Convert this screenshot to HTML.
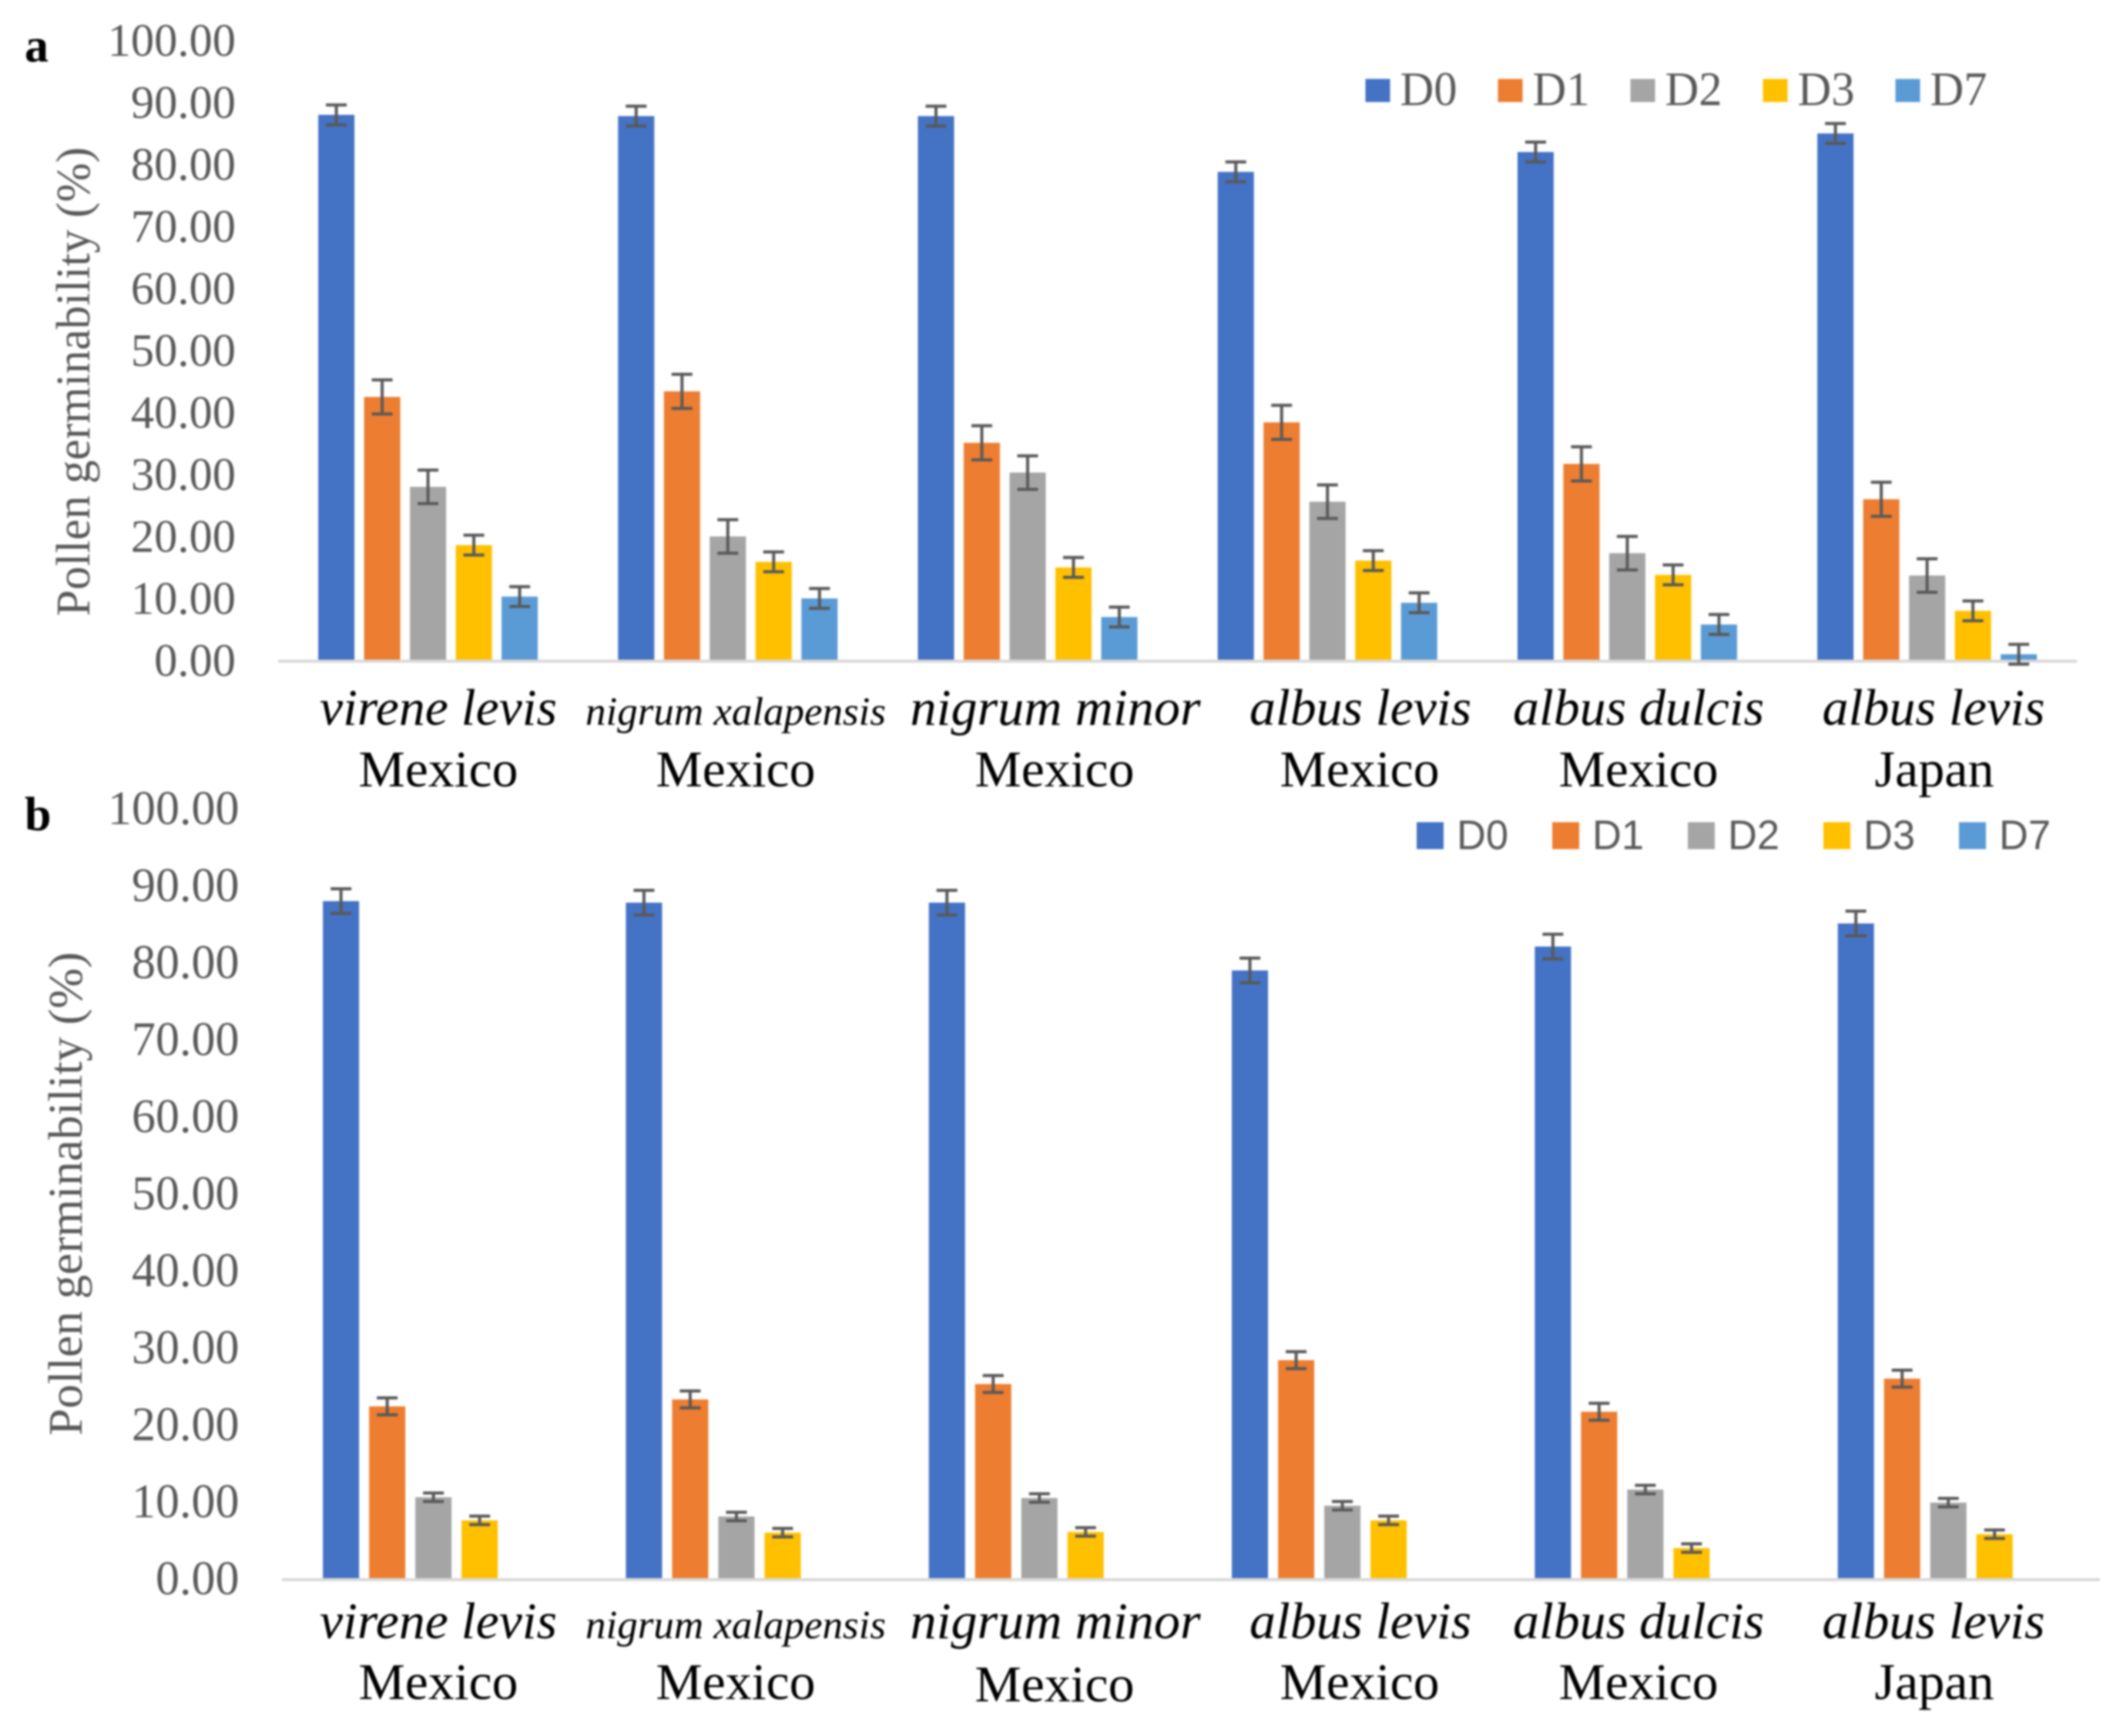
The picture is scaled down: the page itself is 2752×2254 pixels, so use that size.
<!DOCTYPE html>
<html lang="en">
<head>
<meta charset="utf-8">
<title>Pollen germinability charts</title>
<style>
html,body{margin:0;padding:0;background:#fff;width:2752px;height:2254px;overflow:hidden}
svg{display:block;filter:blur(1.3px)}
.cat{font-family:"Liberation Serif",serif;fill:#000}
.it{font-style:italic}
</style>
</head>
<body>
<svg id="figure" width="2752" height="2254" viewBox="0 0 2752 2254" xmlns="http://www.w3.org/2000/svg">
<rect width="2752" height="2254" fill="#fff"/>
<text x="32" y="80" font-family="Liberation Serif, serif" font-weight="bold" font-size="62" fill="#000">a</text>
<text x="32" y="1078" font-family="Liberation Serif, serif" font-weight="bold" font-size="62" fill="#000">b</text>
<text transform="translate(116,800) rotate(-90)" font-family="Liberation Serif, serif" font-size="62" fill="#595959" textLength="609" lengthAdjust="spacingAndGlyphs">Pollen germinability (%)</text>
<text transform="translate(106,1864) rotate(-90)" font-family="Liberation Serif, serif" font-size="62" fill="#595959" textLength="628" lengthAdjust="spacingAndGlyphs">Pollen germinability (%)</text>

<g font-size="67" text-anchor="middle">
<text class="cat it" x="569" y="941" textLength="308" lengthAdjust="spacingAndGlyphs">virene levis</text>
<text class="cat it" x="955" y="941" font-size="52" textLength="390" lengthAdjust="spacingAndGlyphs">nigrum xalapensis</text>
<text class="cat it" x="1370" y="941" textLength="377" lengthAdjust="spacingAndGlyphs">nigrum minor</text>
<text class="cat it" x="1766" y="941" textLength="288" lengthAdjust="spacingAndGlyphs">albus levis</text>
<text class="cat it" x="2127" y="941" textLength="326" lengthAdjust="spacingAndGlyphs">albus dulcis</text>
<text class="cat it" x="2510" y="941" textLength="289" lengthAdjust="spacingAndGlyphs">albus levis</text>
<text class="cat" x="569" y="1021" textLength="207" lengthAdjust="spacingAndGlyphs">Mexico</text>
<text class="cat" x="955" y="1021" textLength="207" lengthAdjust="spacingAndGlyphs">Mexico</text>
<text class="cat" x="1369" y="1021" textLength="207" lengthAdjust="spacingAndGlyphs">Mexico</text>
<text class="cat" x="1765" y="1021" textLength="207" lengthAdjust="spacingAndGlyphs">Mexico</text>
<text class="cat" x="2127" y="1021" textLength="207" lengthAdjust="spacingAndGlyphs">Mexico</text>
<text class="cat" x="2511" y="1021" textLength="155" lengthAdjust="spacingAndGlyphs">Japan</text>
</g>

<g font-size="67" text-anchor="middle">
<text class="cat it" x="569" y="2127" textLength="308" lengthAdjust="spacingAndGlyphs">virene levis</text>
<text class="cat it" x="955" y="2127" font-size="52" textLength="390" lengthAdjust="spacingAndGlyphs">nigrum xalapensis</text>
<text class="cat it" x="1370" y="2127" textLength="377" lengthAdjust="spacingAndGlyphs">nigrum minor</text>
<text class="cat it" x="1766" y="2127" textLength="288" lengthAdjust="spacingAndGlyphs">albus levis</text>
<text class="cat it" x="2127" y="2127" textLength="326" lengthAdjust="spacingAndGlyphs">albus dulcis</text>
<text class="cat it" x="2510" y="2127" textLength="289" lengthAdjust="spacingAndGlyphs">albus levis</text>
<text class="cat" x="569" y="2206" textLength="207" lengthAdjust="spacingAndGlyphs">Mexico</text>
<text class="cat" x="955" y="2206" textLength="207" lengthAdjust="spacingAndGlyphs">Mexico</text>
<text class="cat" x="1369" y="2209" textLength="207" lengthAdjust="spacingAndGlyphs">Mexico</text>
<text class="cat" x="1765" y="2206" textLength="207" lengthAdjust="spacingAndGlyphs">Mexico</text>
<text class="cat" x="2127" y="2206" textLength="207" lengthAdjust="spacingAndGlyphs">Mexico</text>
<text class="cat" x="2511" y="2206" textLength="155" lengthAdjust="spacingAndGlyphs">Japan</text>
</g>
</svg>

<script>
// Shared labels
var seriesNames = ['D0', 'D1', 'D2', 'D3', 'D7'];
var seriesColors = ['#4472C4', '#ED7D31', '#A5A5A5', '#FFC000', '#5B9BD5'];
var tickLabels = ['0.00', '10.00', '20.00', '30.00', '40.00', '50.00', '60.00', '70.00', '80.00', '90.00', '100.00'];
var tickValues = [0, 10, 20, 30, 40, 50, 60, 70, 80, 90, 100];

// Panel a values, one array per series, six categories each
var aD0 = [88.0, 87.8, 87.8, 78.8, 82.0, 85.0];
var aD1 = [42.5, 43.4, 35.1, 38.4, 31.7, 26.0];
var aD2 = [28.0, 20.0, 30.3, 25.6, 17.3, 13.7];
var aD3 = [18.6, 15.9, 15.0, 16.1, 13.8, 8.0];
var aD7 = [10.3, 10.0, 7.0, 9.3, 5.8, 1.0];
var aErrors = [1.6, 2.75, 2.7, 1.6, 1.6];

// Panel b values
var bD0 = [88.0, 87.8, 87.8, 79.0, 82.1, 85.1];
var bD1 = [22.4, 23.3, 25.3, 28.4, 21.7, 26.0];
var bD2 = [10.6, 8.1, 10.5, 9.5, 11.6, 9.9];
var bD3 = [7.6, 6.0, 6.1, 7.6, 4.0, 5.8];
var bD7 = [0, 0, 0, 0, 0, 0];
var bErrors = [1.6, 1.1, 0.55, 0.55, 0];

var NS = 'http://www.w3.org/2000/svg';
var figure = document.getElementById('figure');

function node(tag, attrs, parent) {
  var el = document.createElementNS(NS, tag);
  for (var k in attrs) { el.setAttribute(k, attrs[k]); }
  parent.appendChild(el);
  return el;
}

function drawPanel(p) {
  var series = p.series;
  var errors = p.errors;
  function yScale(v) { return p.base - v * p.unit; }
  function xScale(g, s) { return p.left + p.groupW * (g + 0.5) + (s - 2) * p.pitch; }

  var chart = node('g', {}, figure);
  
  

  tickValues.forEach(function (v, i) {
    var t = node('text', {
      x: p.tickX, y: yScale(v) + 20, 'text-anchor': 'end',
      'font-family': 'Liberation Serif, serif', 'font-size': p.tickSize, fill: '#595959'
    }, chart);
    
    
    t.textContent = tickLabels[i];
  });

  series.forEach(function (vals, s) {
    vals.forEach(function (v, g) {
      var cx = xScale(g, s);
      var bar = node('rect', {
        x: cx - p.barW / 2, y: yScale(v), width: p.barW, height: p.base - yScale(v),
        fill: seriesColors[s]
      }, chart);
      
      
    });
  });

  var axis = node('line', {
    x1: p.left, x2: p.left + p.groupW * 6, y1: p.base + 1, y2: p.base + 1,
    stroke: '#d9d9d9', 'stroke-width': 4
  }, chart);
  
  

  series.forEach(function (vals, s) {
    if (!errors[s]) { return; }
    vals.forEach(function (v, g) {
      var cx = xScale(g, s);
      var hi = yScale(v + errors[s]);
      var lo = yScale(v - errors[s]);
      var path = node('path', {
        d: 'M' + (cx - 13.5) + ' ' + hi + 'H' + (cx + 13.5) + 'M' + cx + ' ' + hi + 'V' + lo + 'M' + (cx - 13.5) + ' ' + lo + 'H' + (cx + 13.5),
        fill: 'none', stroke: '#595959', 'stroke-width': 4
      }, chart);
      
      
    });
  });

  var legend = node('g', {}, chart);
  
  
  seriesNames.forEach(function (name, i) {
    var lx = p.legX + i * p.legPitch;
    var swatch = node('rect', {
      x: lx, y: p.legY, width: p.legBox, height: p.legBoxH, fill: seriesColors[i]
    }, legend);
    
    
    var label = node('text', {
      x: lx + p.legTextDx, y: p.legBase,
      'font-family': p.legFont, 'font-size': p.legSize, fill: '#595959',
      textLength: p.legTextW, lengthAdjust: 'spacingAndGlyphs'
    }, legend);
    
    
    label.textContent = name;
  });
}

drawPanel({
  id: 'a', series: [aD0, aD1, aD2, aD3, aD7], errors: aErrors,
  base: 857.5, unit: 8.05, left: 361, groupW: 389.2, pitch: 59.5, barW: 47,
  tickX: 306, tickSize: 60.5,
  legX: 1772.5, legPitch: 172, legY: 102.5, legBox: 32, legBoxH: 30, legTextDx: 45,
  legBase: 136.5, legFont: 'Liberation Serif, serif', legSize: 62, legTextW: 74
});

drawPanel({
  id: 'b', series: [bD0, bD1, bD2, bD3, bD7], errors: bErrors,
  base: 2050, unit: 10.0, left: 366, groupW: 393.3, pitch: 60, barW: 47,
  tickX: 310.5, tickSize: 62,
  legX: 1839, legPitch: 176, legY: 1067.5, legBox: 35, legBoxH: 35, legTextDx: 52,
  legBase: 1102.5, legFont: 'Liberation Sans, sans-serif', legSize: 54, legTextW: 67
});
</script>
</body>
</html>
